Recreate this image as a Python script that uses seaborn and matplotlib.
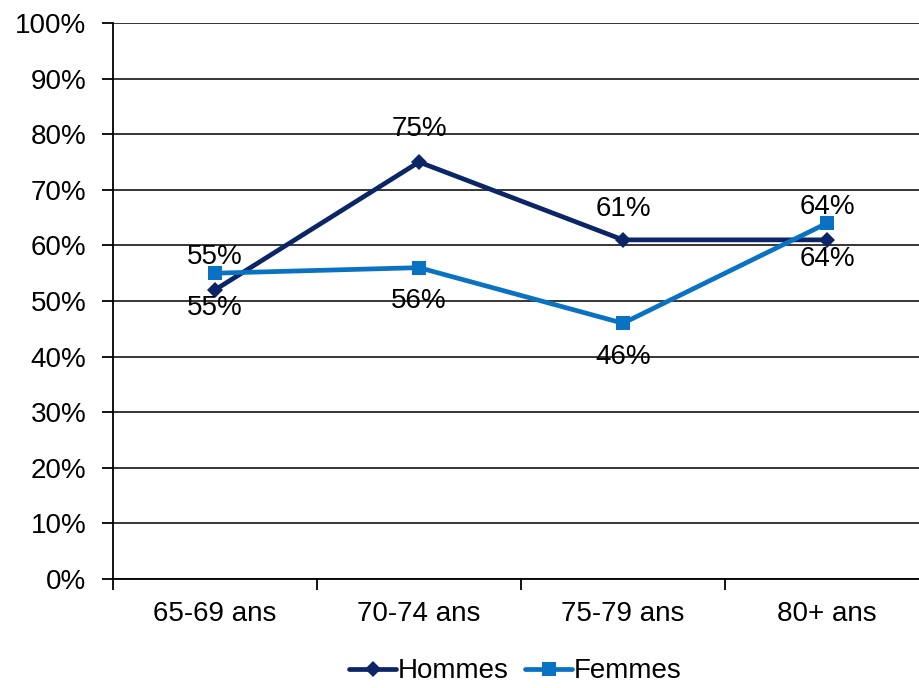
"""Share by age group, men vs women (line chart)."""

import matplotlib
matplotlib.use("Agg")

import matplotlib.pyplot as plt
import pandas as pd
import seaborn as sns
from matplotlib.ticker import FixedLocator, PercentFormatter

AGE_GROUPS = ["65-69 ans", "70-74 ans", "75-79 ans", "80+ ans"]
HOMMES = [52, 75, 61, 61]
FEMMES = [55, 56, 46, 64]
# labels printed on the chart (not always equal to the plotted value)
HOMMES_LABELS = ["55%", "75%", "61%", "64%"]
FEMMES_LABELS = ["55%", "56%", "46%", "64%"]

# vertical offset of each data label from its point, in pixels
HOMMES_OFFSETS = [-18, 33, 31, -19]
FEMMES_OFFSETS = [16, -33, -34, 16]

COLORS = {"Hommes": "#0B2567", "Femmes": "#0A72C2"}
MARKERS = {"Hommes": "D", "Femmes": "s"}
FONT_SIZE = 20


def build_frame() -> pd.DataFrame:
    rows = []
    for name, values in (("Hommes", HOMMES), ("Femmes", FEMMES)):
        for age, v in zip(AGE_GROUPS, values):
            rows.append({"age": age, "pct": v, "sexe": name})
    return pd.DataFrame(rows)


def main() -> None:
    sns.set_theme(style="white")
    plt.rcParams["font.family"] = ["Liberation Sans", "DejaVu Sans"]
    plt.rcParams["text.color"] = "black"

    df = build_frame()
    fig = plt.figure(figsize=(9.2, 6.88), dpi=100)
    ax = fig.add_axes([0.1228, 0.1585, 0.887, 0.808])

    sns.lineplot(
        data=df, x="age", y="pct", hue="sexe", style="sexe",
        palette=COLORS, markers=MARKERS, dashes=False,
        linewidth=3.4, markersize=9, markeredgewidth=0,
        sort=False, ax=ax, legend=False,
    )
    # squares are drawn a bit larger in the original
    for line in ax.get_lines():
        if line.get_marker() == "s":
            line.set_markersize(10)
        else:
            line.set_markersize(8)

    px_to_pt = 72 / fig.dpi
    for values, labels, offsets in (
        (HOMMES, HOMMES_LABELS, HOMMES_OFFSETS),
        (FEMMES, FEMMES_LABELS, FEMMES_OFFSETS),
    ):
        for i, (v, lab, off) in enumerate(zip(values, labels, offsets)):
            ax.annotate(
                lab, (i, v), xytext=(0, off * px_to_pt),
                textcoords="offset points", ha="center", va="center",
                fontsize=FONT_SIZE, color="black",
            )

    ax.set_xlim(-0.5, 3.5)
    ax.set_ylim(0, 100)
    ax.yaxis.set_major_locator(FixedLocator(range(0, 101, 10)))
    ax.yaxis.set_major_formatter(PercentFormatter(decimals=0))
    ax.set_xticks(range(len(AGE_GROUPS)))
    ax.set_xticklabels(AGE_GROUPS)
    ax.xaxis.set_minor_locator(FixedLocator([-0.5, 0.5, 1.5, 2.5, 3.5]))
    ax.tick_params(axis="x", which="major", length=0, pad=16,
                   labelsize=FONT_SIZE, colors="black")
    ax.tick_params(axis="x", which="minor", length=8, width=1.3,
                   direction="out", color="black", bottom=True)
    ax.tick_params(axis="y", length=8, width=1.3, direction="out",
                   labelsize=FONT_SIZE, colors="black", left=True, pad=11)
    ax.set_xlabel("")
    ax.set_ylabel("")

    ax.grid(axis="y", color="black", linewidth=1.1)
    ax.set_axisbelow(True)
    for side in ("top", "right"):
        ax.spines[side].set_visible(False)
    for side in ("left", "bottom"):
        ax.spines[side].set_color("black")
        ax.spines[side].set_linewidth(1.3)

    handles = [
        plt.Line2D([], [], color=COLORS[n], marker=MARKERS[n], linewidth=3.4,
                   markersize=8 if n == "Hommes" else 10, markeredgewidth=0)
        for n in ("Hommes", "Femmes")
    ]
    leg = fig.legend(
        handles, ["Hommes", "Femmes"], loc="center",
        bbox_to_anchor=(0.56, 0.024), ncol=2, frameon=False,
        fontsize=FONT_SIZE, handlelength=1.7, handletextpad=0.05,
        columnspacing=0.6, borderpad=0,
    )
    for text in leg.get_texts():
        text.set_color("black")

    fig.savefig("out.png", dpi=100)


if __name__ == "__main__":
    main()
